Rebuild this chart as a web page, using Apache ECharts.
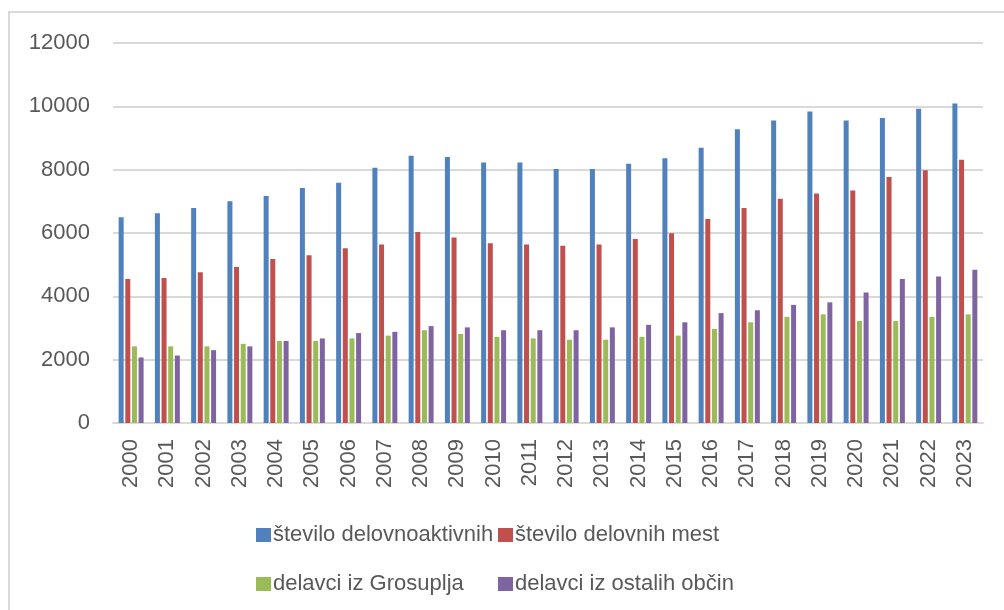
<!DOCTYPE html>
<html>
<head>
<meta charset="utf-8">
<script src="https://cdn.jsdelivr.net/npm/echarts@6/dist/echarts.min.js"></script>
<style>
  html, body { margin: 0; padding: 0; background: #fff; }
  #chart { width: 1004px; height: 610px; }
</style>
</head>
<body>
<div id="chart"></div>
<script>
const years = ['2000', '2001', '2002', '2003', '2004', '2005', '2006', '2007', '2008', '2009', '2010', '2011',
  '2012', '2013', '2014', '2015', '2016', '2017', '2018', '2019', '2020', '2021', '2022', '2023'];

// število delovnoaktivnih
const delovnoaktivni = [6500, 6620, 6790, 7000, 7170, 7420, 7590, 8060, 8440, 8400, 8230, 8230,
  8020, 8020, 8190, 8360, 8690, 9280, 9550, 9840, 9550, 9630, 9920, 10090];
// število delovnih mest
const delovnaMesta = [4550, 4580, 4760, 4930, 5180, 5300, 5520, 5640, 6030, 5860, 5680, 5640,
  5600, 5640, 5810, 5990, 6440, 6790, 7080, 7250, 7340, 7770, 7980, 8310];
// delavci iz Grosuplja
const izGrosuplja = [2420, 2420, 2420, 2500, 2590, 2590, 2670, 2760, 2930, 2810, 2720, 2670,
  2630, 2630, 2720, 2760, 2970, 3180, 3350, 3430, 3220, 3220, 3350, 3430];
// delavci iz ostalih občin
const izOstalih = [2070, 2130, 2300, 2420, 2590, 2670, 2840, 2880, 3060, 3020, 2930, 2930,
  2930, 3020, 3100, 3180, 3470, 3560, 3730, 3810, 4120, 4550, 4630, 4840];

const seriesNames = ['število delovnoaktivnih', 'število delovnih mest', 'delavci iz Grosuplja', 'delavci iz ostalih občin'];
const seriesData = [delovnoaktivni, delovnaMesta, izGrosuplja, izOstalih];
const colors = ['#4F81BD', '#C0504D', '#9BBB59', '#8064A2'];

const FONT = 'Liberation Sans';
const TEXT = '#595959';

// legend laid out as 2x2 grid, like the original
const legendPos = [
  { left: 256, top: 524 },
  { left: 498, top: 524 },
  { left: 256, top: 573 },
  { left: 498, top: 573 }
];

const chart = echarts.init(document.getElementById('chart'), null, { renderer: 'canvas' });

chart.setOption({
  animation: false,
  color: colors,
  graphic: [{
    type: 'rect',
    shape: { x: 9, y: 12, width: 1010, height: 620 },
    style: { fill: 'none', stroke: '#D9D9D9', lineWidth: 2 },
    silent: true
  }],
  legend: legendPos.map((p, i) => ({
    data: [seriesNames[i]],
    left: p.left,
    top: p.top,
    itemWidth: 15,
    itemHeight: 14,
    icon: 'rect',
    padding: 0,
    textStyle: { fontFamily: FONT, fontSize: 22, color: TEXT, padding: [0, 0, 0, -3] }
  })),
  grid: { left: 113, right: 21, top: 43, bottom: 187, containLabel: false },
  xAxis: {
    type: 'category',
    data: years,
    axisLine: { lineStyle: { color: '#D9D9D9', width: 2 } },
    axisTick: { show: false },
    axisLabel: {
      rotate: 90,
      interval: 0,
      margin: 16,
      fontFamily: FONT,
      fontSize: 22,
      color: TEXT
    }
  },
  yAxis: {
    type: 'value',
    min: 0,
    max: 12000,
    interval: 2000,
    axisLine: { show: false },
    axisTick: { show: false },
    splitLine: { lineStyle: { color: '#D9D9D9', width: 2 } },
    axisLabel: {
      margin: 23,
      fontFamily: FONT,
      fontSize: 22,
      color: TEXT,
      formatter: v => String(v)
    }
  },
  series: seriesNames.map((name, i) => ({
    name: name,
    type: 'bar',
    data: seriesData[i],
    barWidth: 5,
    barGap: '33%',
    itemStyle: { color: colors[i] }
  }))
});
</script>
</body>
</html>
